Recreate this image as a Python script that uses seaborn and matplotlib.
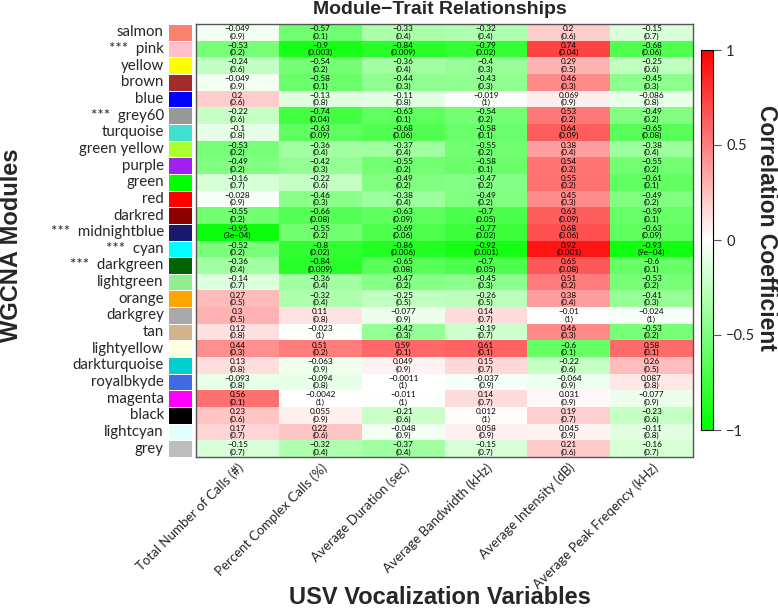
import numpy as np
import pandas as pd
import matplotlib
matplotlib.use("Agg")
import matplotlib.pyplot as plt
import seaborn as sns
from matplotlib.colors import LinearSegmentedColormap, ListedColormap

# module names, their swatch colours and significance marks
modules = ["salmon", "pink", "yellow", "brown", "blue", "grey60", "turquoise",
           "green yellow", "purple", "green", "red", "darkred", "midnightblue",
           "cyan", "darkgreen", "lightgreen", "orange", "darkgrey", "tan",
           "lightyellow", "darkturquoise", "royalbkyde", "magenta", "black",
           "lightcyan", "grey"]
module_colors = ["#FA8072", "#FFC0CB", "#FFFF00", "#A52A2A", "#0000FF", "#999999",
                 "#40E0D0", "#ADFF2F", "#A020F0", "#00FF00", "#FF0000", "#8B0000",
                 "#191970", "#00FFFF", "#006400", "#90EE90", "#FFA500", "#A9A9A9",
                 "#D2B48C", "#FFFFE0", "#00CED1", "#4169E1", "#FF00FF", "#000000",
                 "#E0FFFF", "#BEBEBE"]
starred = ["pink", "grey60", "midnightblue", "cyan", "darkgreen"]

traits = ["Total Number of Calls (#)", "Percent Complex Calls (%)",
          "Average Duration (sec)", "Average Bandwidth (kHz)",
          "Average Intensity (dB)", "Average Peak Freqency (kHz)"]

# correlation coefficients (rows = modules, cols = traits)
corr = [
    [-0.049, -0.57, -0.33, -0.32, 0.2, -0.15],
    [-0.53, -0.9, -0.84, -0.79, 0.74, -0.68],
    [-0.24, -0.54, -0.36, -0.4, 0.29, -0.25],
    [-0.049, -0.58, -0.44, -0.43, 0.46, -0.45],
    [0.2, -0.13, -0.11, -0.019, 0.069, -0.086],
    [-0.22, -0.74, -0.63, -0.54, 0.53, -0.49],
    [-0.1, -0.63, -0.68, -0.58, 0.64, -0.65],
    [-0.53, -0.36, -0.37, -0.55, 0.38, -0.38],
    [-0.49, -0.42, -0.55, -0.58, 0.54, -0.55],
    [-0.16, -0.22, -0.49, -0.47, 0.55, -0.61],
    [-0.028, -0.46, -0.38, -0.49, 0.45, -0.49],
    [-0.55, -0.66, -0.63, -0.7, 0.63, -0.59],
    [-0.95, -0.55, -0.69, -0.77, 0.68, -0.63],
    [-0.52, -0.8, -0.86, -0.92, 0.92, -0.93],
    [-0.36, -0.84, -0.65, -0.7, 0.65, -0.6],
    [-0.14, -0.36, -0.47, -0.45, 0.51, -0.53],
    [0.27, -0.32, -0.25, -0.26, 0.38, -0.41],
    [0.3, 0.11, -0.077, 0.14, -0.01, -0.024],
    [0.12, -0.023, -0.42, -0.19, 0.46, -0.53],
    [0.44, 0.51, 0.59, 0.61, -0.6, 0.58],
    [0.13, -0.063, 0.049, 0.15, -0.22, 0.26],
    [-0.093, -0.094, -0.0011, -0.037, -0.064, 0.087],
    [0.56, -0.0042, -0.011, 0.14, 0.031, -0.077],
    [0.23, 0.055, -0.21, 0.012, 0.19, -0.23],
    [0.17, 0.22, -0.048, 0.058, 0.045, -0.11],
    [-0.15, -0.32, -0.37, -0.15, 0.21, -0.16],
]

# p-values
pvals = [
    [0.9, 0.1, 0.4, 0.4, 0.6, 0.7],
    [0.2, 0.003, 0.009, 0.02, 0.04, 0.06],
    [0.6, 0.2, 0.4, 0.3, 0.5, 0.6],
    [0.9, 0.1, 0.3, 0.3, 0.3, 0.3],
    [0.6, 0.8, 0.8, 1, 0.9, 0.8],
    [0.6, 0.04, 0.1, 0.2, 0.2, 0.2],
    [0.8, 0.09, 0.06, 0.1, 0.09, 0.08],
    [0.2, 0.4, 0.4, 0.2, 0.4, 0.4],
    [0.2, 0.3, 0.2, 0.1, 0.2, 0.2],
    [0.7, 0.6, 0.2, 0.2, 0.2, 0.1],
    [0.9, 0.3, 0.4, 0.2, 0.3, 0.2],
    [0.2, 0.08, 0.09, 0.05, 0.09, 0.1],
    [3e-04, 0.2, 0.06, 0.02, 0.06, 0.09],
    [0.2, 0.02, 0.006, 0.001, 0.001, 9e-04],
    [0.4, 0.009, 0.08, 0.05, 0.08, 0.1],
    [0.7, 0.4, 0.2, 0.3, 0.2, 0.2],
    [0.5, 0.4, 0.5, 0.5, 0.4, 0.3],
    [0.5, 0.8, 0.9, 0.7, 1, 1],
    [0.8, 1, 0.3, 0.7, 0.3, 0.2],
    [0.3, 0.2, 0.1, 0.1, 0.1, 0.1],
    [0.8, 0.9, 0.9, 0.7, 0.6, 0.5],
    [0.8, 0.8, 1, 0.9, 0.9, 0.8],
    [0.1, 1, 1, 0.7, 0.9, 0.9],
    [0.6, 0.9, 0.6, 1, 0.7, 0.6],
    [0.7, 0.6, 0.9, 0.9, 0.9, 0.8],
    [0.7, 0.4, 0.4, 0.7, 0.6, 0.7],
]


def fmt_p(p):
    s = f"{p:.0e}" if p < 0.001 else f"{p:g}"
    return s.replace("-", "\u2212")


df = pd.DataFrame(corr, index=modules, columns=traits)
labels = np.array([[f"{r:g}".replace("-", "\u2212") + "\n(" + fmt_p(p) + ")"
                    for r, p in zip(rr, pp)] for rr, pp in zip(corr, pvals)])

sns.set_theme(style="white")
plt.rcParams["font.family"] = ["Lato", "DejaVu Sans"]
plt.rcParams["axes.unicode_minus"] = True

W, H = 778, 612
fig = plt.figure(figsize=(W / 100, H / 100), dpi=100)

hm_l, hm_r, hm_t, hm_b = 196, 693, 24, 457
ax = fig.add_axes([hm_l / W, 1 - hm_b / H, (hm_r - hm_l) / W, (hm_b - hm_t) / H])
ax_sw = fig.add_axes([168 / W, 1 - hm_b / H, 24 / W, (hm_b - hm_t) / H])
cax = fig.add_axes([701 / W, 1 - 430 / H, 12 / W, 380 / H])

cmap = LinearSegmentedColormap.from_list("gwr", ["#00FF00", "#FFFFFF", "#FF0000"])

sns.heatmap(df, ax=ax, cmap=cmap, vmin=-1, vmax=1, annot=labels, fmt="",
            annot_kws={"fontsize": 5.9, "color": "black", "linespacing": 1.05},
            cbar_ax=cax, yticklabels=False, xticklabels=traits)
for side in ["top", "bottom", "left", "right"]:
    ax.spines[side].set_visible(True)
    ax.spines[side].set_color("#555555")
    ax.spines[side].set_linewidth(1.0)
ax.set_xticklabels(traits, rotation=45, ha="right", rotation_mode="anchor",
                   fontsize=9.5)
ax.tick_params(axis="x", length=0, pad=3)
ax.set_xlabel("")
ax.set_ylabel("")

# module colour swatches
sw = pd.DataFrame({"c": np.arange(len(modules))}, index=modules)
row_labels = [("***  " + m) if m in starred else m for m in modules]
sns.heatmap(sw, ax=ax_sw, cmap=ListedColormap(module_colors), cbar=False,
            xticklabels=False, yticklabels=row_labels, linewidths=0.4,
            linecolor="white")
ax_sw.tick_params(axis="y", length=0, pad=3, labelsize=10.8)
ax_sw.set_ylabel("")

# colorbar
cbar = ax.collections[0].colorbar
cbar.set_ticks([-1, -0.5, 0, 0.5, 1])
cbar.set_ticklabels(["\u22121", "\u22120.5", "0", "0.5", "1"])
cbar.ax.tick_params(labelsize=10.5, length=6, width=0.8, color="#555555",
                    right=True, direction="out")
cbar.outline.set_visible(True)
cbar.outline.set_edgecolor("black")
cbar.outline.set_linewidth(0.8)

bold = ["Liberation Sans", "DejaVu Sans"]
fig.text(440 / W, 1 - 10 / H, "Module\u2212Trait Relationships",
         ha="center", va="center", fontsize=14, fontweight="bold", family=bold)
fig.text(440 / W, 1 - 597 / H, "USV Vocalization Variables",
         ha="center", va="center", fontsize=17, fontweight="bold", family=bold)
fig.text(12 / W, 1 - 245 / H, "WGCNA Modules", ha="center", va="center",
         rotation=90, fontsize=17, fontweight="bold", family=bold)
fig.text(766 / W, 1 - 228 / H, "Correlation Coefficient", ha="center",
         va="center", rotation=-90, fontsize=16.5, fontweight="bold", family=bold)

fig.savefig("out.png", dpi=100)
